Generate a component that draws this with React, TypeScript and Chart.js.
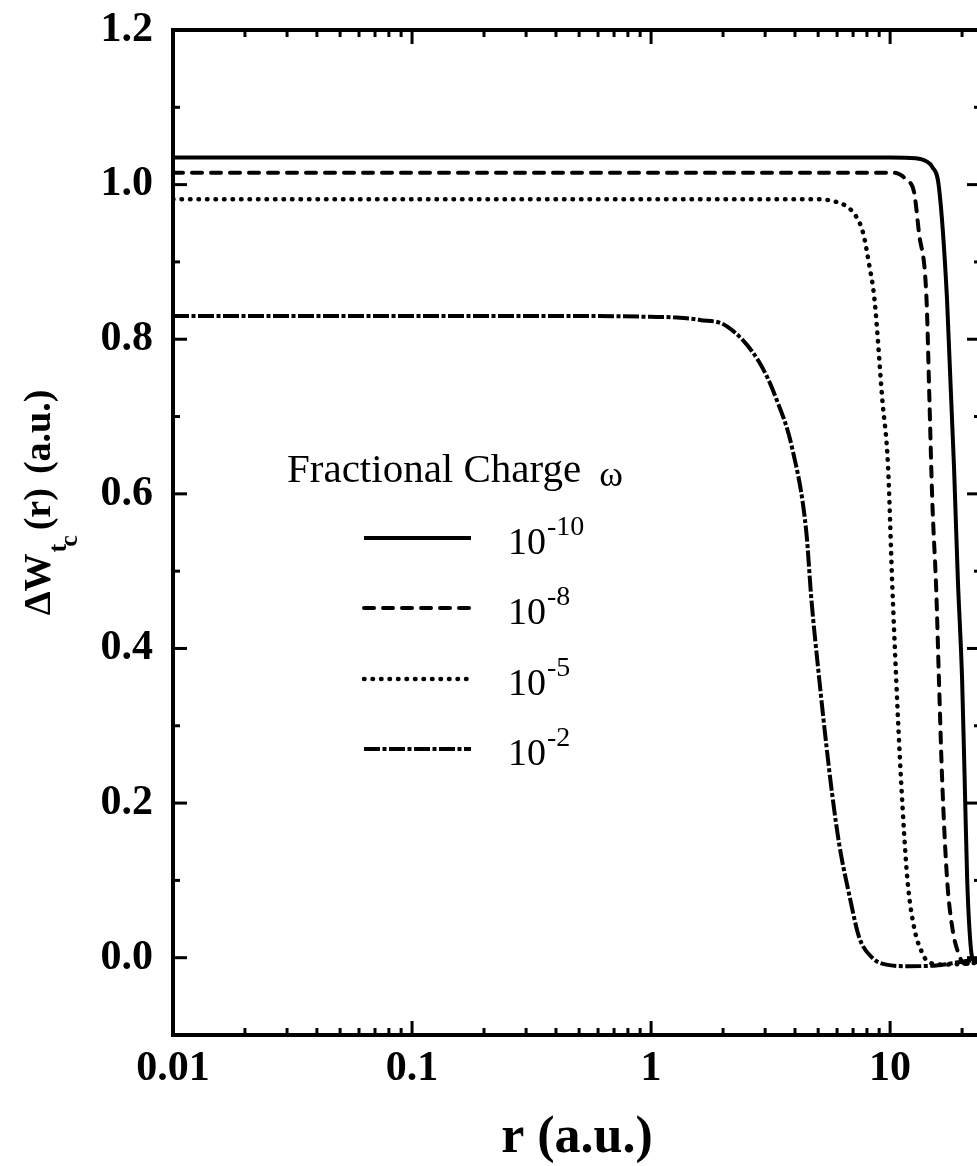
import { useEffect, useRef } from 'react';
import { Chart, registerables } from 'chart.js';

Chart.register(...registerables);

const SERIF = '"Liberation Serif", "Times New Roman", Times, serif';

// Axis ranges and tick labels
const xMin = 0.01;
const xMax = 24;
const yMin = -0.1;
const yMax = 1.2;
const xTickValues = [0.01, 0.1, 1, 10];
const xTickLabels = ['0.01', '0.1', '1', '10'];
const yTickValues = [0, 0.2, 0.4, 0.6, 0.8, 1.0, 1.2];
const yTickLabels = ['0.0', '0.2', '0.4', '0.6', '0.8', '1.0', '1.2'];

// ω = 10^-10
const rOmega10 = [0.01, 0.1, 1, 5, 10, 12.8, 14.2, 15.0, 16.0, 17.3, 18.5, 19.2, 20.0, 20.5, 21.0, 21.7, 22.4, 24];
const wOmega10 = [1.035, 1.035, 1.035, 1.035, 1.035, 1.034, 1.030, 1.023, 0.997, 0.852, 0.636, 0.49, 0.361, 0.232, 0.103, 0.017, -0.004, -0.005];

// ω = 10^-8
const rOmega8 = [0.01, 0.1, 1, 5, 10.2, 11.0, 11.7, 12.6, 13.2, 14.2, 14.6, 15.0, 15.6, 16.0, 16.5, 17.3, 18.2, 19.4, 20.5, 22, 24];
const wOmega8 = [1.0155, 1.0155, 1.0155, 1.0155, 1.0155, 1.013, 1.006, 0.990, 0.938, 0.852, 0.723, 0.594, 0.474, 0.361, 0.232, 0.103, 0.039, 0.004, -0.008, -0.007, -0.005];

// ω = 10^-5
const rOmega5 = [0.01, 0.1, 1, 3, 5.0, 5.73, 6.56, 7.2, 7.7, 8.2, 8.6, 9.27, 9.8, 10.2, 10.6, 11.1, 11.8, 12.6, 13.5, 14.5, 17, 20, 24];
const wOmega5 = [0.981, 0.981, 0.981, 0.981, 0.981, 0.979, 0.972, 0.959, 0.938, 0.894, 0.852, 0.723, 0.636, 0.486, 0.361, 0.232, 0.103, 0.039, 0.009, -0.006, -0.009, -0.008, -0.006];

// ω = 10^-2
const rOmega2 = [0.01, 0.1, 0.5, 1.0, 1.28, 1.6, 2.07, 2.84, 3.34, 3.9, 4.46, 4.68, 5.05, 5.41, 5.73, 6.13, 6.75, 7.43, 8.42, 9.64, 12, 15.6, 21.4, 24];
const wOmega2 = [0.83, 0.83, 0.83, 0.829, 0.828, 0.825, 0.817, 0.77, 0.723, 0.658, 0.551, 0.465, 0.361, 0.275, 0.21, 0.146, 0.081, 0.026, 0.0, -0.009, -0.011, -0.01, -0.004, -0.003];

const omegaExponents = ['-10', '-8', '-5', '-2'];
const seriesR = [rOmega10, rOmega8, rOmega5, rOmega2];
const seriesW = [wOmega10, wOmega8, wOmega5, wOmega2];

// Line styles for each ω
const lineStyles = [
  { width: 4, dash: [] as number[], cap: 'butt' as CanvasLineCap },
  { width: 4, dash: [10, 9], cap: 'round' as CanvasLineCap },
  { width: 4.5, dash: [0.5, 8], cap: 'round' as CanvasLineCap },
  { width: 4, dash: [16, 2.5, 4, 2.5], cap: 'butt' as CanvasLineCap },
];

const framePlugin = {
  id: 'frameTicks',
  afterDatasetsDraw(chart: any) {
    const { ctx, chartArea, scales } = chart;
    const { left, right, top, bottom } = chartArea;
    const xs = scales.x;
    const ys = scales.y;
    ctx.save();
    ctx.strokeStyle = '#000';
    ctx.lineCap = 'butt';
    ctx.lineWidth = 3;
    const seg = (x1: number, y1: number, x2: number, y2: number) => {
      ctx.beginPath();
      ctx.moveTo(x1, y1);
      ctx.lineTo(x2, y2);
      ctx.stroke();
    };
    for (let e = -2; e <= 1; e++) {
      for (let m = 1; m <= 9; m++) {
        const v = m * Math.pow(10, e);
        if (v < xMin || v > xMax) continue;
        const px = xs.getPixelForValue(v);
        const len = m === 1 ? 14 : 7;
        seg(px, bottom, px, bottom - len);
        seg(px, top, px, top + len);
      }
    }
    for (let k = 0; k <= 12; k++) {
      const py = ys.getPixelForValue(k / 10);
      const len = k % 2 === 0 ? 14 : 7;
      seg(left, py, left + len, py);
      seg(right, py, right - len, py);
    }
    ctx.lineWidth = 4;
    ctx.strokeRect(left, top, right - left, bottom - top);
    ctx.restore();
  },
  afterDraw(chart: any) {
    const { ctx, chartArea } = chart;
    const { left, top, bottom } = chartArea;
    ctx.save();
    ctx.fillStyle = '#000';
    ctx.textBaseline = 'alphabetic';
    ctx.textAlign = 'left';

    // Y axis title: ΔW_tc(r) (a.u.), rotated
    const big = `bold 38px ${SERIF}`;
    const sub = `bold 26px ${SERIF}`;
    const parts = [
      { t: 'ΔW', f: big, dy: 0, gap: 1 },
      { t: 't', f: sub, dy: 16, gap: -3 },
      { t: 'c', f: sub, dy: 27, gap: 5 },
      { t: '(r)', f: big, dy: 0, gap: 14 },
      { t: '(a.u.)', f: big, dy: 0, gap: 0 },
    ];
    let total = 0;
    const widths = parts.map((p) => {
      ctx.font = p.f;
      const w = ctx.measureText(p.t).width;
      total += w + p.gap;
      return w;
    });
    total -= parts[parts.length - 1].gap;
    ctx.translate(50, (top + bottom) / 2 - 30);
    ctx.rotate(-Math.PI / 2);
    let cx = -total / 2;
    parts.forEach((p, i) => {
      ctx.font = p.f;
      ctx.fillText(p.t, cx, p.dy);
      cx += widths[i] + p.gap;
    });
    ctx.setTransform(1, 0, 0, 1, 0, 0);

    // Legend block
    const lx = left + 114;
    ctx.font = `41px ${SERIF}`;
    ctx.fillText('Fractional Charge', lx, 482);
    const tw = ctx.measureText('Fractional Charge').width;
    ctx.font = `36px ${SERIF}`;
    ctx.fillText('ω', lx + tw + 18, 486);

    const rowY = [538, 608, 679, 749];
    omegaExponents.forEach((exp, i) => {
      const st = lineStyles[i];
      const y = rowY[i];
      ctx.save();
      ctx.lineWidth = st.width;
      ctx.lineCap = st.cap;
      ctx.setLineDash(st.dash);
      ctx.strokeStyle = '#000';
      ctx.beginPath();
      ctx.moveTo(left + 191, y);
      ctx.lineTo(left + 298, y);
      ctx.stroke();
      ctx.restore();
      ctx.font = `38px ${SERIF}`;
      ctx.fillText('10', left + 335, y + 16);
      const w10 = ctx.measureText('10').width;
      ctx.font = `28px ${SERIF}`;
      ctx.fillText(exp, left + 335 + w10 + 1, y - 3);
    });
    ctx.restore();
  },
};

export default function App() {
  const canvasRef = useRef<HTMLCanvasElement | null>(null);

  useEffect(() => {
    const canvas = canvasRef.current;
    if (!canvas) return;
    const datasets = seriesR.map((rs, i) => ({
      label: `ω = 10^${omegaExponents[i]}`,
      data: rs.map((r, j) => ({ x: r, y: seriesW[i][j] })),
      borderColor: '#000',
      backgroundColor: '#000',
      borderWidth: lineStyles[i].width,
      borderDash: lineStyles[i].dash,
      borderCapStyle: lineStyles[i].cap,
      borderJoinStyle: 'round' as CanvasLineJoin,
      pointRadius: 0,
      fill: false,
      cubicInterpolationMode: 'monotone' as const,
    }));

    const chart = new Chart(canvas, {
      type: 'line',
      data: { datasets },
      plugins: [framePlugin],
      options: {
        animation: false,
        responsive: false,
        devicePixelRatio: 1,
        layout: { padding: { top: 30, right: 9, bottom: 0, left: 0 } },
        plugins: { legend: { display: false }, tooltip: { enabled: false } },
        scales: {
          x: {
            type: 'logarithmic',
            min: xMin,
            max: xMax,
            afterBuildTicks: (scale: any) => {
              scale.ticks = xTickValues.map((v) => ({ value: v }));
            },
            afterFit: (scale: any) => {
              scale.height = 131;
              scale.paddingLeft = 0;
              scale.paddingRight = 0;
            },
            grid: { display: false, drawTicks: false },
            border: { display: false },
            ticks: {
              autoSkip: false,
              maxRotation: 0,
              padding: 9,
              color: '#000',
              font: { family: SERIF, size: 42, weight: 'bold' },
              callback: (value: any) => {
                const idx = xTickValues.findIndex((v) => Math.abs(v - Number(value)) < 1e-9);
                return idx >= 0 ? xTickLabels[idx] : '';
              },
            },
            title: {
              display: true,
              text: 'r (a.u.)',
              color: '#000',
              font: { family: SERIF, size: 52, weight: 'bold' },
              padding: { top: 0, bottom: -4 },
            },
          },
          y: {
            type: 'linear',
            min: yMin,
            max: yMax,
            afterBuildTicks: (scale: any) => {
              scale.ticks = yTickValues.map((v) => ({ value: v }));
            },
            afterFit: (scale: any) => {
              scale.width = 173;
              scale.paddingTop = 0;
              scale.paddingBottom = 0;
            },
            grid: { display: false, drawTicks: false },
            border: { display: false },
            ticks: {
              autoSkip: false,
              padding: 20,
              color: '#000',
              font: { family: SERIF, size: 42, weight: 'bold' },
              callback: (value: any) => {
                const idx = yTickValues.findIndex((v) => Math.abs(v - Number(value)) < 1e-9);
                return idx >= 0 ? yTickLabels[idx] : '';
              },
            },
          },
        },
      },
    });
    return () => chart.destroy();
  }, []);

  return (
    <div
      style={{
        position: 'fixed',
        left: 0,
        top: 0,
        width: 977,
        height: 1166,
        overflow: 'hidden',
        background: '#fff',
      }}
    >
      <canvas ref={canvasRef} width={990} height={1166} style={{ display: 'block', width: 990, height: 1166 }} />
    </div>
  );
}
